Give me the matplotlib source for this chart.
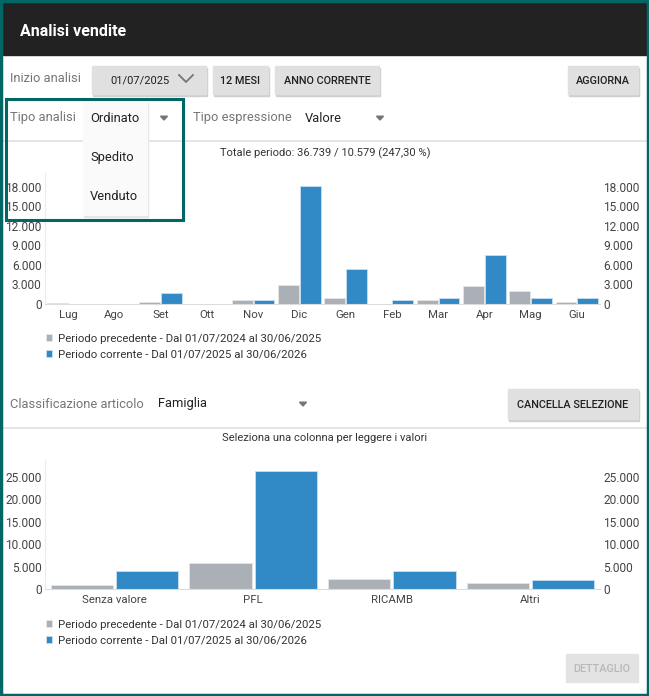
import matplotlib.pyplot as plt
from matplotlib.patches import Rectangle, Polygon
from matplotlib.ticker import FuncFormatter, MultipleLocator

plt.rcParams['font.family'] = ['Roboto', 'DejaVu Sans']

# dati grafico mensile
mesi = ["Lug", "Ago", "Set", "Ott", "Nov", "Dic", "Gen", "Feb", "Mar", "Apr", "Mag", "Giu"]
mesi_prec = [200, 0, 300, 0, 600, 2860, 920, 0, 660, 2800, 1990, 250]
mesi_corr = [0, 0, 1730, 0, 660, 18050, 5380, 610, 920, 7500, 920, 970]

# dati grafico per famiglia
famiglie = ["Senza valore", "PFL", "RICAMB", "Altri"]
fam_prec = [890, 5770, 2150, 1400]
fam_corr = [3950, 26250, 4100, 2100]

lbl_prec = "Periodo precedente - Dal 01/07/2024 al 30/06/2025"
lbl_corr = "Periodo corrente - Dal 01/07/2025 al 30/06/2026"
titolo1 = "Totale periodo: 36.739 / 10.579 (247,30 %)"
titolo2 = "Seleziona una colonna per leggere i valori"

GRIGIO = "#abb0b6"
BLU = "#318ac5"
TEAL = "#006666"
BTN = "#e0e0e0"

W, H = 649, 696
fig = plt.figure(figsize=(W / 100, H / 100), dpi=100)

# sfondo in coordinate pixel
bg = fig.add_axes([0, 0, 1, 1], zorder=0)
bg.set_xlim(0, W)
bg.set_ylim(H, 0)
bg.axis("off")

bg.add_patch(Rectangle((0, 0), W, H, color="white"))
bg.add_patch(Rectangle((3, 3), W - 6, 52, color="#222222"))
bg.text(20, 31, "Analisi vendite", color="white", fontsize=11.5, fontweight="bold", va="center")


def bottone(x0, x1, y0, y1, testo, col="#212121"):
    bg.add_patch(Rectangle((x0 + 0.5, y0 + 1.5), x1 - x0, y1 - y0, color="#cfcfcf"))
    bg.add_patch(Rectangle((x0, y0), x1 - x0, y1 - y0, color=BTN))
    bg.text((x0 + x1) / 2, (y0 + y1) / 2 + 0.5, testo, color=col, fontsize=7.8,
            fontweight="medium", ha="center", va="center")


def freccia(x, y):
    bg.add_patch(Polygon([[x - 3.5, y - 1.8], [x + 3.5, y - 1.8], [x, y + 2]], color="#757575"))


# riga 1
bg.text(10, 79, "Inizio analisi", color="#757575", fontsize=9.3, va="center")
bg.add_patch(Rectangle((92.5, 67.5), 114, 28, color="#cfcfcf"))
bg.add_patch(Rectangle((92, 66), 114, 28, color=BTN))
bg.text(140, 80, "01/07/2025", color="#212121", fontsize=8, ha="center", va="center")
bg.plot([179, 186, 193], [75, 82, 75], color="#757575", lw=1.3)
bottone(213, 268, 66, 94, "12 MESI")
bottone(275, 379, 66, 94, "ANNO CORRENTE")
bottone(568, 638, 66, 94, "AGGIORNA")

# riga 2
bg.text(10, 118, "Tipo analisi", color="#757575", fontsize=9.3, va="center")
freccia(164, 118)
bg.text(193, 118, "Tipo espressione", color="#757575", fontsize=9.3, va="center")
bg.text(305, 118, "Valore", color="#212121", fontsize=9.3, va="center")
freccia(380, 118)
bg.plot([3, 646], [141, 141], color="#e0e0e0", lw=1.2)

bg.text(325, 153, titolo1, color="#333333", fontsize=8, ha="center", va="center")

# riga 3
bg.text(10, 404, "Classificazione articolo", color="#757575", fontsize=9.3, va="center")
bg.text(158, 404, "Famiglia", color="#212121", fontsize=9.3, va="center")
freccia(303, 404)
bottone(508, 638, 389, 419, "CANCELLA SELEZIONE")
bg.plot([3, 646], [428, 428], color="#e0e0e0", lw=1.2)

bg.text(325, 438, titolo2, color="#333333", fontsize=8, ha="center", va="center")

bg.add_patch(Rectangle((566, 654), 72, 28, color="#e3e3e3"))
bg.text(602, 668.5, "DETTAGLIO", color="#b8b8b8", fontsize=7.8, fontweight="medium",
        ha="center", va="center")

fmt = FuncFormatter(lambda v, p: f"{v:,.0f}".replace(",", "."))


def grafico(top, bottom, cats, prec, corr, ymax, passo, leg_y):
    ax = fig.add_axes([45 / W, 1 - bottom / H, 555 / W, (bottom - top) / H], zorder=1)
    ax.patch.set_alpha(0)
    x = list(range(len(cats)))
    b1 = ax.bar([i - 0.235 for i in x], prec, width=0.45, color=GRIGIO,
                edgecolor="#e6e6e6", linewidth=0.6, label=lbl_prec)
    b2 = ax.bar([i + 0.235 for i in x], corr, width=0.45, color=BLU,
                edgecolor="#c9def0", linewidth=0.6, label=lbl_corr)
    ax.set_xlim(-0.5, len(cats) - 0.5)
    ax.set_ylim(0, ymax)
    ax.set_xticks(x)
    ax.set_xticklabels(cats)
    ax.yaxis.set_major_locator(MultipleLocator(passo))
    ax.yaxis.set_major_formatter(fmt)
    ax.tick_params(axis="y", length=0, labelleft=True, labelright=True, pad=2.5,
                   labelsize=8.6, labelcolor="#444444")
    ax.tick_params(axis="x", length=0, pad=4, labelsize=8.2, labelcolor="#444444")
    for s in ["top", "right"]:
        ax.spines[s].set_visible(False)
    ax.spines["left"].set_color("#ececec")
    ax.spines["bottom"].set_color("#dcdcdc")
    ax.legend(handles=[b1, b2], loc="upper left", bbox_to_anchor=(40 / W, 1 - leg_y / H),
              bbox_transform=fig.transFigure, frameon=False, fontsize=8.2,
              handlelength=0.55, handleheight=0.55, handletextpad=0.5,
              labelspacing=0.5, borderpad=0, labelcolor="#333333")
    return ax


grafico(173, 304, mesi, mesi_prec, mesi_corr, 20100, 3000, 328)
grafico(460, 589, famiglie, fam_prec, fam_corr, 28700, 5000, 614)

# menu a tendina e riquadro evidenziato sopra i grafici
ov = fig.add_axes([0, 0, 1, 1], zorder=5)
ov.set_xlim(0, W)
ov.set_ylim(H, 0)
ov.axis("off")
ov.patch.set_alpha(0)
ov.add_patch(Rectangle((84, 102), 64, 115, color="#e4e4e4"))
ov.add_patch(Rectangle((83, 100), 64, 115, color="#fafafa"))
for yy, t in zip([118, 157, 196], ["Ordinato", "Spedito", "Venduto"]):
    ov.text(90, yy, t, color="#212121", fontsize=9.3, va="center")
ov.add_patch(Rectangle((6, 99), 177, 121, fill=False, edgecolor=TEAL, lw=2.2))
ov.add_patch(Rectangle((1, 1), W - 2, H - 2, fill=False, edgecolor=TEAL, lw=2.5))

fig.savefig("out.png", dpi=100)
